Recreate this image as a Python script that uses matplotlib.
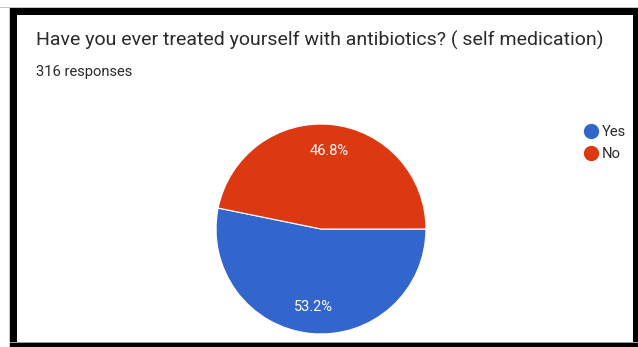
import matplotlib.pyplot as plt
from matplotlib.patches import Rectangle
from matplotlib.lines import Line2D

plt.rcParams['font.family'] = ['Roboto', 'DejaVu Sans']

title = "Have you ever treated yourself with antibiotics? ( self medication)"
responses = 316
answers = ["Yes", "No"]
shares = [53.2, 46.8]
colors = ["#3366CC", "#DC3912"]

W, H = 638, 347
fig = plt.figure(figsize=(W / 100, H / 100), dpi=100)
fig.patch.set_facecolor("white")

def fx(px):
    return px / W

def fy(py):
    return 1 - py / H

# black frame around the card
frame = [
    (0, 7, W, 1, "#c8c8c8"),
    (9, 7, 1, H, "#c8c8c8"),
    (10, 8, W - 10, 7, "black"),
    (10, 8, 7, H, "black"),
    (633, 8, 5, H, "black"),
    (10, 342, W, 1, "#9a9a9a"),
    (10, 343, W, 4, "black"),
]
for x, y, w, h, c in frame:
    fig.patches.append(Rectangle((fx(x), fy(y + h)), w / W, h / H,
                                 transform=fig.transFigure, color=c, lw=0))

fig.text(fx(36), fy(40), title, fontsize=14, color="#2a2a2a", va="center")
fig.text(fx(36), fy(72), f"{responses} responses", fontsize=10.6,
         color="#2a2a2a", va="center")

ax = fig.add_axes([fx(215), fy(335), 212 / W, 212 / H])
wedges, texts, autotexts = ax.pie(
    shares, colors=colors, startangle=0, counterclock=False,
    autopct="%1.1f%%", pctdistance=0.75,
    wedgeprops=dict(edgecolor="white", linewidth=0.8),
    textprops=dict(color="white", fontsize=10.5))
ax.set_xlim(-1.01, 1.01)
ax.set_ylim(-1.01, 1.01)
ax.set_aspect("equal")
ax.axis("off")

handles = [Line2D([], [], marker="o", ls="", markersize=10,
                  markerfacecolor=c, markeredgecolor=c) for c in colors]
fig.legend(handles, answers, loc="upper left",
           bbox_to_anchor=(fx(576), fy(119)), frameon=False,
           handletextpad=0.15, labelspacing=0.55, fontsize=10.6,
           labelcolor="#2a2a2a", borderaxespad=0, handlelength=1.2)

fig.savefig("out.png", dpi=100)
